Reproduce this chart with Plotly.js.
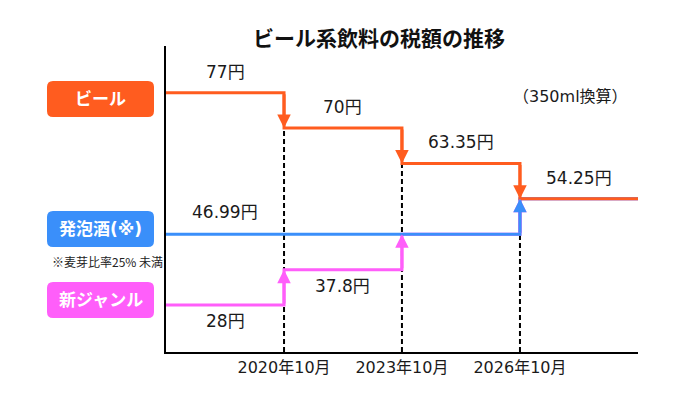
<!DOCTYPE html>
<html><head><meta charset="utf-8">
<script src="https://cdn.plot.ly/plotly-3.0.1.min.js"></script>
<style>html,body{margin:0;padding:0;background:#fff}#chart{width:683px;height:407px}</style>
</head><body><div id="chart"></div>
<script>
// ---- data ----
const periodStarts = ['2017-10-01', '2020-10-01', '2023-10-01', '2026-10-01'];
const periodEnd = '2029-10-01';
const beerTax = [77, 70, 63.35, 54.25];
const happoshuTax = [46.99, 46.99, 46.99, 54.25];
const newGenreTax = [28, 37.8, 46.99, 54.25];
const tickDates = ['2020-10-01', '2023-10-01', '2026-10-01'];
const tickLabels = ['2020年10月', '2023年10月', '2026年10月'];
const seriesNames = ['ビール', '発泡酒(※)', '新ジャンル'];
const footnote = '※麦芽比率25% 未満';
const unitNote = '（350ml換算）';
const chartTitle = 'ビール系飲料の税額の推移';

// ---- style ----
const FONT = "'DejaVu Sans', 'Noto Sans CJK JP', sans-serif";
const CJK = "'Noto Sans CJK JP', 'DejaVu Sans', sans-serif";
const L = 166, R = 638, T = 46, B = 352, W = R - L, H = B - T;
const pxX = x => (x - L) / W;
const pxY = y => (B - y) / H;
const yRange = [-1.328, 7.32];

const series = [
  {name: seriesNames[2], vals: newGenreTax, color: '#FF5EFA', labels: [0, 1], shift: -16, box: [282, 318]},
  {name: seriesNames[1], vals: happoshuTax, color: '#3A8FFA', labels: [0], shift: 22, box: [211, 247]},
  {name: seriesNames[0], vals: beerTax, color: '#FF5C1F', labels: [0, 1, 2, 3], shift: 21, box: [81, 117]}
];

const levels = [...new Set([...beerTax, ...happoshuTax, ...newGenreTax])].sort((a, b) => a - b).map(String);
const lvl = v => levels.indexOf(String(v));   // position on the category scale
const bounds = periodStarts.concat([periodEnd]);
const mid = i => new Date((new Date(bounds[i]).getTime() + new Date(bounds[i + 1]).getTime()) / 2).toISOString().slice(0, 10);

const traces = series.map(s => ({
  type: 'scatter', mode: 'lines', name: s.name,
  x: bounds,
  y: s.vals.concat([s.vals[s.vals.length - 1]]).map(String),
  line: {shape: 'hv', color: s.color, width: 3},
  hoverinfo: 'skip'
}));

const annotations = [];
const shapes = [];

// dashed guides from axis to beer level at each change date
for (let i = 1; i < periodStarts.length; i++) {
  shapes.push({type: 'line', xref: 'x', yref: 'y', x0: periodStarts[i], x1: periodStarts[i],
    y0: yRange[0], y1: lvl(beerTax[i]), layer: 'below',
    line: {color: '#000', width: 2, dash: '5px,3px'}});
}

// arrows
series.forEach(s => {
  for (let i = 1; i < s.vals.length; i++) {
    if (s.vals[i] !== s.vals[i - 1]) {
      annotations.push({xref: 'x', yref: 'y', axref: 'x', ayref: 'y',
        x: periodStarts[i], y: lvl(s.vals[i]), ax: periodStarts[i], ay: lvl(s.vals[i - 1]),
        text: '', showarrow: true, arrowhead: 2, arrowsize: 0.9, arrowwidth: 3, arrowcolor: s.color, standoff: 0});
    }
  }
});

// value labels
series.forEach(s => {
  s.labels.forEach(i => {
    annotations.push({xref: 'x', yref: 'y', x: mid(i), y: lvl(s.vals[i]), yshift: s.shift,
      text: s.vals[i] + '円', showarrow: false, font: {family: FONT, size: 17, color: '#1a1a1a'}});
  });
});

// series label boxes
const bx0 = pxX(47), bx1 = pxX(154), rx = 6 / W, ry = 6 / H;
series.forEach(s => {
  const y0 = pxY(s.box[1]), y1 = pxY(s.box[0]);
  const p = `M${bx0 + rx},${y0} H${bx1 - rx} Q${bx1},${y0} ${bx1},${y0 + ry} V${y1 - ry} Q${bx1},${y1} ${bx1 - rx},${y1} H${bx0 + rx} Q${bx0},${y1} ${bx0},${y1 - ry} V${y0 + ry} Q${bx0},${y0} ${bx0 + rx},${y0} Z`;
  shapes.push({type: 'path', xref: 'paper', yref: 'paper', path: p, fillcolor: s.color, line: {width: 0}});
  annotations.push({xref: 'paper', yref: 'paper', x: (bx0 + bx1) / 2, y: (y0 + y1) / 2, xanchor: 'center', yanchor: 'middle',
    text: s.name, showarrow: false, font: {family: FONT, size: 17, color: '#fff', weight: 'bold'}});
});

annotations.push({xref: 'paper', yref: 'paper', x: pxX(107), y: pxY(261), xanchor: 'center', yanchor: 'middle',
  text: footnote, showarrow: false, font: {family: CJK, size: 12, color: '#222'}});
annotations.push({xref: 'paper', yref: 'paper', x: pxX(570), y: pxY(96), xanchor: 'center', yanchor: 'middle',
  text: unitNote, showarrow: false, font: {family: FONT, size: 16, color: '#1a1a1a'}});

const layout = {
  width: 683, height: 407,
  margin: {l: L, r: 683 - R, t: T, b: 407 - B, pad: 0},
  paper_bgcolor: '#fff', plot_bgcolor: '#fff',
  showlegend: false, hovermode: false,
  title: {text: chartTitle, xref: 'paper', x: pxX(379), xanchor: 'center', yref: 'container', y: 1 - 39 / 407, yanchor: 'middle',
    font: {family: CJK, size: 21, color: '#111', weight: 'bold'}},
  xaxis: {type: 'date', range: [periodStarts[0], periodEnd], showgrid: false, zeroline: false,
    showline: true, linecolor: '#000', linewidth: 2, ticks: '',
    tickmode: 'array', tickvals: tickDates, ticktext: tickLabels,
    tickfont: {family: FONT, size: 16, color: '#1a1a1a'}},
  yaxis: {type: 'category', categoryorder: 'array', categoryarray: levels, range: yRange,
    showgrid: false, zeroline: false, showline: true, linecolor: '#000', linewidth: 2,
    ticks: '', showticklabels: false},
  shapes: shapes,
  annotations: annotations
};

Plotly.newPlot('chart', traces, layout, {staticPlot: true, displayModeBar: false});
</script>
</body></html>
